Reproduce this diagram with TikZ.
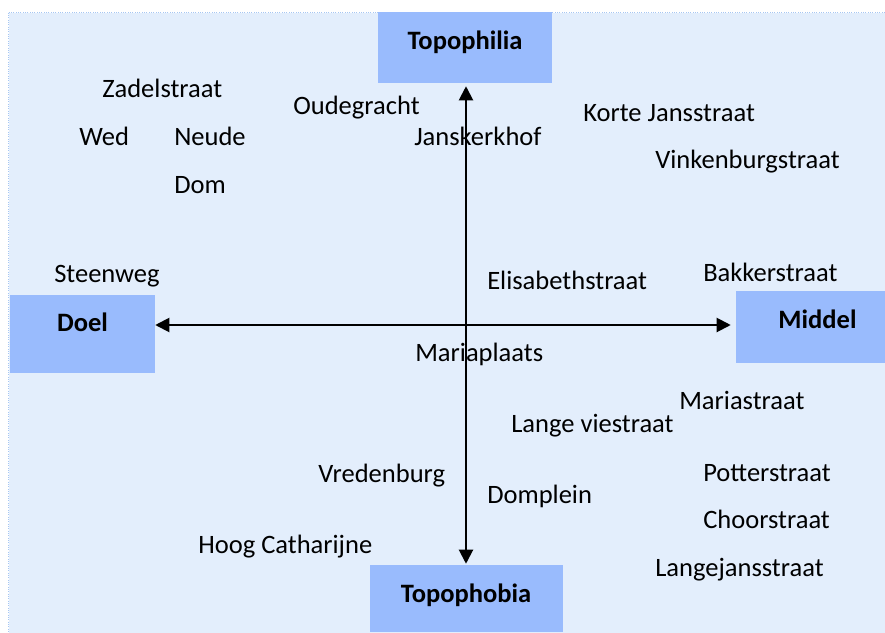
\documentclass[tikz,border=0pt]{standalone}
\usepackage{fontspec}
\setmainfont{Carlito}
\usetikzlibrary{arrows.meta}
\definecolor{bgblue}{HTML}{E3EEFC}
\definecolor{boxblue}{HTML}{99BBFD}
\definecolor{edgeblue}{HTML}{A6C6F2}
\tikzset{
  street/.style={anchor=base west, inner sep=0pt, font=\fontsize{19.9}{23}\selectfont},
  boxlabel/.style={anchor=base, inner sep=0pt, font=\fontsize{19.9}{23}\selectfont\bfseries},
  pole/.style={fill=boxblue, draw=none, inner sep=0pt},
  axis/.style={line width=1.5pt, {Triangle[length=10.5pt,width=10.5pt]}-{Triangle[length=10.5pt,width=10.5pt]}}
}
\begin{document}
\begin{tikzpicture}[x=0.75pt,y=-0.75pt]
\clip (0,0) rectangle (885,632);
\fill[white] (0,0) rectangle (885,632);
\draw[fill=bgblue, draw=edgeblue, line width=0.75pt, densely dotted] (8.5,12.5) rectangle (900,650);
% pole boxes
\node[pole, minimum width=174*0.75pt, minimum height=71*0.75pt] (phil) at (465,47.5) {};
\node[pole, minimum width=193*0.75pt, minimum height=67*0.75pt] (phob) at (466.5,598.5) {};
\node[pole, minimum width=145*0.75pt, minimum height=78*0.75pt] (doel) at (82.5,334) {};
\node[pole, minimum width=149*0.75pt, minimum height=72*0.75pt] (mid) at (810.5,327) {};
\node[boxlabel] (philt) at (465,49) {Topophilia};
\node[boxlabel] (phobt) at (466,602) {Topophobia};
\node[boxlabel] (doelt) at (82.5,331) {Doel};
\node[boxlabel] (midt) at (817.5,328) {Middel};
% axes
\coordinate (c) at (466,325);
\draw[axis, shorten <=2.25pt, shorten >=0.75pt] (c |- phil.south) -- (c |- phob.north);
\draw[axis, shorten >=3.75pt] (c -| doel.east) -- (c -| mid.west);
% streets
\node[street] (zadel) at (102,97) {Zadelstraat};
\node[street] (wed) at (79,145) {Wed};
\node[street] (neude) at (174,145) {Neude};
\node[street] (dom) at (174,193) {Dom};
\node[street] (oude) at (293,114) {Oudegracht};
\node[street] (jansk) at (414,145) {Janskerkhof};
\node[street] (korte) at (583,121) {Korte Jansstraat};
\node[street] (vinken) at (655,168) {Vinkenburgstraat};
\node[street] (steen) at (54,282) {Steenweg};
\node[street] (elis) at (487,289) {Elisabethstraat};
\node[street] (bakker) at (703,281) {Bakkerstraat};
\node[street] (mariap) at (415,361) {Mariaplaats};
\node[street] (marias) at (679,409) {Mariastraat};
\node[street] (lange) at (511,432) {Lange viestraat};
\node[street] (vreden) at (318,482) {Vredenburg};
\node[street] (potter) at (703,481) {Potterstraat};
\node[street] (domp) at (487,503) {Domplein};
\node[street] (choor) at (703,528) {Choorstraat};
\node[street] (hoog) at (198,553) {Hoog Catharijne};
\node[street] (langej) at (655,576) {Langejansstraat};
\end{tikzpicture}
\end{document}
